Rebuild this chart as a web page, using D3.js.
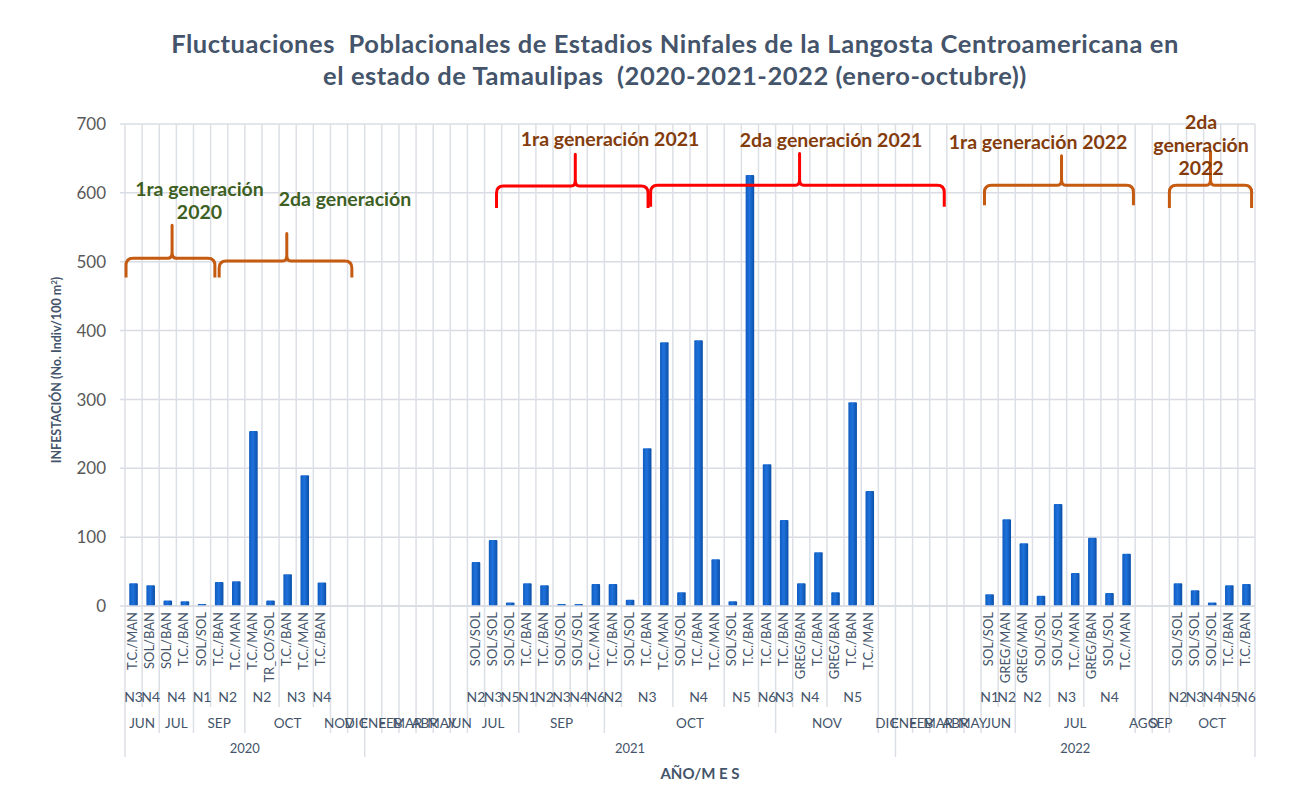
<!DOCTYPE html>
<html>
<head>
<meta charset="utf-8">
<script src="https://cdn.jsdelivr.net/npm/d3@7"></script>
<style>
  body { margin: 0; background: #fff; }
  svg text { font-family: Lato, "Open Sans", sans-serif; white-space: pre; }
</style>
</head>
<body>
<svg id="chart" width="1302" height="806"></svg>
<script>
// category levels, one entry per slot on the x axis
let years = [
  "2020","2020","2020","2020","2020","2020","2020","2020","2020","2020","2020","2020","2020","2020",
  "2021","2021","2021","2021","2021","2021","2021","2021","2021","2021","2021","2021","2021","2021",
  "2021","2021","2021","2021","2021","2021","2021","2021","2021","2021","2021","2021","2021","2021",
  "2021","2021","2021",
  "2022","2022","2022","2022","2022","2022","2022","2022","2022","2022","2022","2022","2022","2022",
  "2022","2022","2022","2022","2022","2022","2022"
];
let months = [
  "JUN","JUN","JUL","JUL","SEP","SEP","SEP","OCT","OCT","OCT","OCT","OCT","NOV","DIC",
  "ENE","FEB","MAR","ABR","MAY","JUN","JUL","JUL","JUL","SEP","SEP","SEP","SEP","SEP",
  "OCT","OCT","OCT","OCT","OCT","OCT","OCT","OCT","OCT","OCT","NOV","NOV","NOV","NOV",
  "NOV","NOV","DIC",
  "ENE","FEB","MAR","ABR","MAY","JUN","JUN","JUL","JUL","JUL","JUL","JUL","JUL","JUL",
  "AGO","SEP","OCT","OCT","OCT","OCT","OCT"
];
let stages = [
  "N3","N4","N4","N4","N1","N2","N2","N2","N2","N3","N3","N4","","",
  "","","","","","","N2","N3","N5","N1","N2","N3","N4","N6",
  "N2","N3","N3","N3","N4","N4","N4","N5","N5","N6","N3","N4","N4","N5",
  "N5","N5","",
  "","","","","","N1","N2","N2","N2","N3","N3","N4","N4","N4",
  "","","N2","N3","N4","N5","N6"
];
let hosts = [
  "T.C./MAN","SOL/BAN","SOL/BAN","T.C./BAN","SOL/SOL","T.C./BAN","T.C./MAN","T.C./MAN","TR_CO/SOL","T.C./BAN","T.C./MAN","T.C./BAN","","",
  "","","","","","","SOL/SOL","SOL/SOL","SOL/SOL","T.C./BAN","T.C./BAN","SOL/SOL","SOL/SOL","T.C./MAN",
  "T.C./BAN","SOL/SOL","T.C./BAN","T.C./MAN","SOL/SOL","T.C./BAN","T.C./MAN","SOL/SOL","T.C./BAN","T.C./BAN","T.C./BAN","GREG/BAN","T.C./BAN","GREG/BAN",
  "T.C./BAN","T.C./MAN","",
  "","","","","","SOL/SOL","GREG/MAN","GREG/MAN","SOL/SOL","SOL/SOL","T.C./MAN","GREG/BAN","SOL/SOL","T.C./MAN",
  "","","SOL/SOL","SOL/SOL","SOL/SOL","T.C./BAN","T.C./BAN"
];
let infestation = [
  33,30,8,7,3,35,36,254,8,46,190,34,null,null,
  null,null,null,null,null,null,64,96,5,33,30,3,3,32,
  32,9,229,383,20,386,68,7,626,206,125,33,78,20,
  296,167,null,
  null,null,null,null,null,17,126,91,15,148,48,99,19,76,
  null,null,33,23,5,30,32
];
let yTicks = [0,100,200,300,400,500,600,700];

// generation braces: slot range, peak slot, values of line / peak / ends
let braceFrom  = [0.06, 5.5, 21.7, 30.7, 50.2, 61.0];
let braceTo    = [5.25, 13.25, 30.55, 47.85, 58.9, 65.8];
let bracePeak  = [2.75, 9.45, 26.3, 39.4, 54.7, 63.4];
let braceLine  = [505, 501, 610, 611, 611, 611];
let braceTop   = [553, 541, 656, 657, 654, 660];
let braceEnd   = [477, 477, 578, 580, 582, 578];
let braceColor = ["#c55a11","#c55a11","#ff0000","#ff0000","#c55a11","#c55a11"];

let genLabels = [
  ["1ra generación", "2020"],
  ["2da generación"],
  ["1ra generación 2021"],
  ["2da generación 2021"],
  ["1ra generación 2022"],
  ["2da", "generación", "2022"]
];
let genLabelSlot  = [4.35, 12.85, 28.33, 41.24, 53.33, 62.85];
let genLabelValue = [595, 581, 668, 667, 664, 693];
let genLabelColor = ["#3d5f23","#3d5f23","#843c0c","#843c0c","#843c0c","#843c0c"];

let svg = d3.select("#chart");
let pLeft = 125, pRight = 1255, pTop = 124, pBottom = 606;

let idx = d3.range(infestation.length);
let x = d3.scaleBand().domain(idx).range([pLeft, pRight]).padding(0);
let y = d3.scaleLinear().domain([0, 700]).range([pBottom, pTop]);
let slot = x.bandwidth();
let sx = function(s) { return pLeft + s * slot; };

// title
svg.append("text")
  .attr("x", 675).attr("text-anchor", "middle")
  .attr("fill", "#44546a").style("font-weight", "bold").style("font-size", "25.5px")
  .style("letter-spacing", "0.55px")
  .selectAll("tspan")
  .data(["Fluctuaciones  Poblacionales de Estadios Ninfales de la Langosta Centroamericana en",
         "el estado de Tamaulipas  (2020-2021-2022 (enero-octubre))"])
  .enter().append("tspan")
  .attr("x", 675)
  .attr("y", function(d, i) { return 53 + i * 32; })
  .text(function(d) { return d; });

// horizontal gridlines + y axis
let grid = svg.append("g").attr("class", "grid");
grid.selectAll("line.h")
  .data(yTicks).enter().append("line")
  .attr("class", "h")
  .attr("x1", pLeft - 5).attr("x2", pRight)
  .attr("y1", function(d) { return y(d); })
  .attr("y2", function(d) { return y(d); })
  .attr("stroke", "#d9dce3").attr("stroke-width", 1.5);

grid.selectAll("line.v")
  .data(d3.range(infestation.length + 1)).enter().append("line")
  .attr("class", "v")
  .attr("x1", function(d) { return sx(d); })
  .attr("x2", function(d) { return sx(d); })
  .attr("y1", pTop).attr("y2", pBottom)
  .attr("stroke", "#dcdfe6").attr("stroke-width", 1.5);

svg.append("g").selectAll("text")
  .data(yTicks).enter().append("text")
  .attr("x", 106).attr("y", function(d) { return y(d); })
  .attr("dy", "0.36em").attr("text-anchor", "end")
  .attr("fill", "#595959").style("font-size", "17px")
  .text(function(d) { return d; });

svg.append("text")
  .attr("transform", "translate(57," + 370 + ") rotate(-90)")
  .attr("text-anchor", "middle").attr("dy", "0.35em")
  .attr("fill", "#44546a").style("font-weight", "bold").style("font-size", "12.5px")
  .html("INFESTACIÓN (No. Indiv/100 m<tspan dy='-4' style='font-size:8px'>2</tspan><tspan dy='4'>)</tspan>");

// bars
let barW = slot * 0.5;
let defs = svg.append("defs");
let grad = defs.append("linearGradient").attr("id", "barGrad")
  .attr("x1", "0").attr("x2", "1").attr("y1", "0").attr("y2", "0");
grad.append("stop").attr("offset", "0%").attr("stop-color", "#0f5cc0");
grad.append("stop").attr("offset", "45%").attr("stop-color", "#1f72dc");
grad.append("stop").attr("offset", "100%").attr("stop-color", "#0a4fa8");

svg.append("g").attr("class", "bars")
  .selectAll("rect")
  .data(idx.filter(function(i) { return infestation[i] != null; }))
  .enter().append("rect")
  .attr("x", function(i) { return x(i) + (slot - barW) / 2; })
  .attr("width", barW)
  .attr("y", function(i) { return y(infestation[i]); })
  .attr("height", function(i) { return y(0) - y(infestation[i]); })
  .attr("rx", 1)
  .attr("fill", "url(#barGrad)");

// multi-level category axis
let lvlN = 707, lvlMonth = 733, lvlYear = 757;
let boundaries = d3.range(infestation.length + 1).map(function(i) {
  let end = lvlN;
  if (i == 0 || i == infestation.length || years[i] != years[i - 1]) end = lvlYear;
  else if (months[i] != months[i - 1]) end = lvlMonth;
  else if (stages[i] == stages[i - 1]) end = null;
  return { i: i, end: end };
}).filter(function(d) { return d.end != null; });

svg.append("g").selectAll("line")
  .data(boundaries).enter().append("line")
  .attr("x1", function(d) { return sx(d.i); })
  .attr("x2", function(d) { return sx(d.i); })
  .attr("y1", pBottom).attr("y2", function(d) { return d.end; })
  .attr("stroke", "#dcdfe6").attr("stroke-width", 1.5);

svg.append("line")
  .attr("x1", pLeft).attr("x2", pRight).attr("y1", pBottom).attr("y2", pBottom)
  .attr("stroke", "#d9dce3").attr("stroke-width", 1.5);

// leaf labels (rotated)
svg.append("g").selectAll("text")
  .data(idx.filter(function(i) { return hosts[i] != ""; }))
  .enter().append("text")
  .attr("transform", function(i) {
    return "translate(" + (x(i) + slot / 2 - 1) + "," + 612 + ") rotate(-90)";
  })
  .attr("text-anchor", "end").attr("dy", "0.35em")
  .attr("fill", "#44546a").style("font-size", "13px")
  .text(function(i) { return hosts[i]; });

// group runs of consecutive equal keys
function runs(keyFn, labelFn) {
  let out = [];
  idx.forEach(function(i) {
    let k = keyFn(i);
    if (out.length && out[out.length - 1].key == k) out[out.length - 1].end = i + 1;
    else out.push({ key: k, start: i, end: i + 1, label: labelFn(i) });
  });
  return out;
}
let stageRuns = runs(function(i) { return years[i] + months[i] + stages[i]; },
                     function(i) { return stages[i]; });
let monthRuns = runs(function(i) { return years[i] + months[i]; },
                     function(i) { return months[i]; });
let yearRuns = runs(function(i) { return years[i]; },
                    function(i) { return years[i]; });

function groupLabels(data, ypos, size) {
  svg.append("g").selectAll("text")
    .data(data).enter().append("text")
    .attr("x", function(d) { return (sx(d.start) + sx(d.end)) / 2; })
    .attr("y", ypos).attr("text-anchor", "middle")
    .attr("fill", "#44546a").style("font-size", size)
    .text(function(d) { return d.label; });
}
groupLabels(stageRuns, 702, "14px");
groupLabels(monthRuns, 728, "13.5px");
groupLabels(yearRuns, 753, "13px");

svg.append("text")
  .attr("x", 700).attr("y", 779).attr("text-anchor", "middle")
  .attr("fill", "#44546a").style("font-weight", "bold").style("font-size", "15px")
  .text("AÑO/M E S");

// generation braces
let r = 7;
let braces = svg.append("g").attr("class", "braces");
braceFrom.forEach(function(b, k) {
  let x0 = sx(braceFrom[k]), x1 = sx(braceTo[k]), xm = sx(bracePeak[k]);
  let yl = y(braceLine[k]), yp = y(braceTop[k]), ye = y(braceEnd[k]);
  let p = d3.path();
  p.moveTo(x0, ye);
  p.lineTo(x0, yl + r);
  p.quadraticCurveTo(x0, yl, x0 + r, yl);
  p.lineTo(xm - 4, yl);
  p.quadraticCurveTo(xm, yl, xm, yl - 6);
  p.lineTo(xm, yp);
  p.lineTo(xm, yl - 6);
  p.quadraticCurveTo(xm, yl, xm + 4, yl);
  p.lineTo(x1 - r, yl);
  p.quadraticCurveTo(x1, yl, x1, yl + r);
  p.lineTo(x1, ye);
  braces.append("path")
    .attr("d", p.toString())
    .attr("fill", "none")
    .attr("stroke", braceColor[k]).attr("stroke-width", 3)
    .attr("stroke-linejoin", "round");
});

// generation labels
genLabels.forEach(function(lines, k) {
  svg.append("text")
    .attr("text-anchor", "middle")
    .attr("fill", genLabelColor[k]).style("font-weight", "bold").style("font-size", "19.5px")
    .selectAll("tspan")
    .data(lines).enter().append("tspan")
    .attr("x", sx(genLabelSlot[k]))
    .attr("y", function(d, i) { return y(genLabelValue[k]) + i * 23; })
    .text(function(d) { return d; });
});
</script>
</body>
</html>
